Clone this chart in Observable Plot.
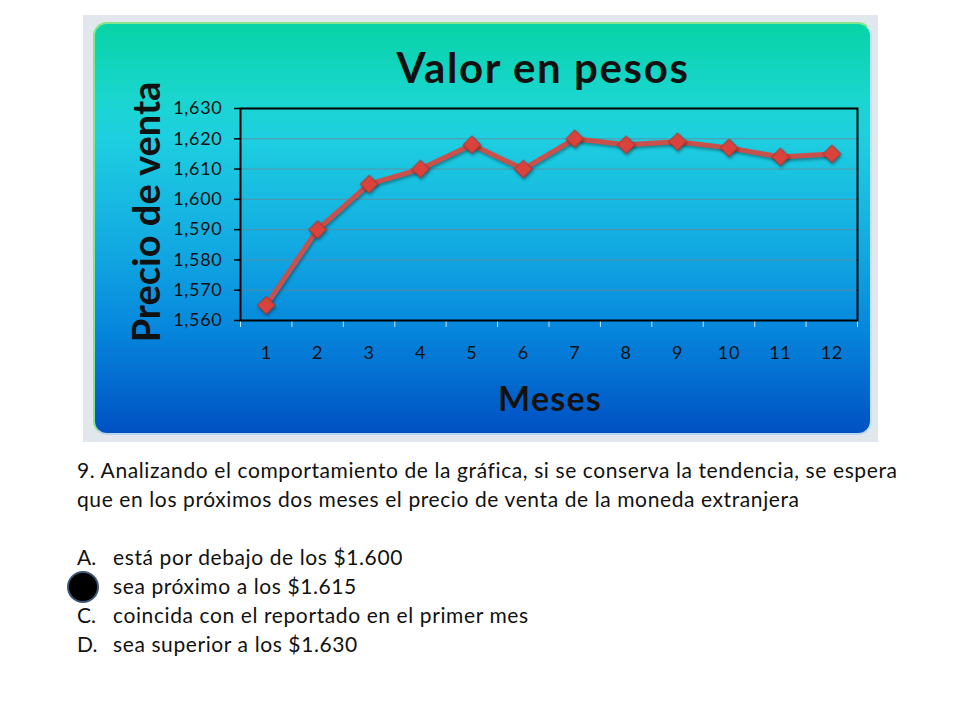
<!DOCTYPE html>
<html>
<head>
<meta charset="utf-8">
<script src="https://cdn.jsdelivr.net/npm/d3@7"></script>
<script src="https://cdn.jsdelivr.net/npm/@observablehq/plot@0.6"></script>
<style>
  html, body { margin:0; padding:0; background:#fff; }
  body { width:960px; height:720px; position:relative; overflow:hidden; font-family: Lato, "Open Sans", sans-serif; }
  #outer { position:absolute; left:83px; top:15px; width:795px; height:427px; background:#e2e7ee; }
  #panel { position:absolute; left:93px; top:22px; width:775px; height:409px; border-radius:14px;
    border:2px solid #86e58a; border-right-color:#bfe6f0; border-bottom-color:#b8d6ee;
    background: linear-gradient(to bottom, #06d3a6 0%, #1ad6cf 18%, #1ecfe0 28%, #12a9e2 55%, #0686dc 75%, #0050c2 100%); }
  #chart { position:absolute; left:93px; top:22px; }
  #chart svg text { letter-spacing:0.7px; }
  .t { position:absolute; color:#111; white-space:nowrap; }
  #title { left:0; width:1086px; top:41px; text-align:center; font-weight:700; font-size:42px; line-height:52px; letter-spacing:1.6px; }
  #ylab { left:145px; top:212px; transform: translate(-50%,-50%) rotate(-90deg); font-weight:700; font-size:38px; line-height:44px; }
  #xlab { left:0; width:1100px; top:376px; text-align:center; font-weight:700; font-size:34px; line-height:44px; letter-spacing:1.2px; }
  #q { position:absolute; left:77px; top:455px; font-size:21px; line-height:29px; color:#111; font-family: Lato, sans-serif; letter-spacing:0.6px; }
  #q div { white-space:nowrap; }
  #q .opt span.l { display:inline-block; width:36px; letter-spacing:0; }
  #dot { position:absolute; left:67px; top:571px; width:28px; height:28px; border-radius:50%; background:#000; border:2px solid #3d5578; }
  svg g[aria-label="line"], svg g[aria-label="dot"] { filter: drop-shadow(1px 2px 1.5px rgba(0,0,0,0.35)); }
</style>
</head>
<body>
<div id="outer"></div>
<div id="panel"></div>
<div id="chart"></div>
<div class="t" id="title">Valor en pesos</div>
<div class="t" id="ylab">Precio de venta</div>
<div class="t" id="xlab">Meses</div>
<div id="q">
  <div>9. Analizando el comportamiento de la gráfica, si se conserva la tendencia, se espera</div>
  <div>que en los próximos dos meses el precio de venta de la moneda extranjera</div>
  <div>&nbsp;</div>
  <div class="opt"><span class="l">A.</span>está por debajo de los $1.600</div>
  <div class="opt"><span class="l"></span>sea próximo a los $1.615</div>
  <div class="opt"><span class="l">C.</span>coincida con el reportado en el primer mes</div>
  <div class="opt"><span class="l">D.</span>sea superior a los $1.630</div>
</div>
<div id="dot"></div>
<script>
const months = [1,2,3,4,5,6,7,8,9,10,11,12];
const prices = [1565,1590,1605,1610,1618,1610,1620,1618,1619,1617,1614,1615];
const yTicks = [1560,1570,1580,1590,1600,1610,1620,1630];
const monthEdges = [0.5,1.5,2.5,3.5,4.5,5.5,6.5,7.5,8.5,9.5,10.5,11.5,12.5];

const data = months.map((m,i) => ({mes:m, precio:prices[i]}));

const chart = Plot.plot({
  width: 777,
  height: 411,
  marginLeft: 147,
  marginTop: 86,
  marginRight: 13,
  marginBottom: 113,
  style: {background:"transparent", fontFamily:"Lato, sans-serif", fontSize:"18px", color:"#111", overflow:"visible"},
  x: {domain:[0.5,12.5]},
  y: {domain:[1560,1630]},
  marks: [
    Plot.gridY(yTicks.slice(1,-1), {stroke:"#6f8294", strokeOpacity:0.75, strokeWidth:1}),
    Plot.axisY(yTicks, {tickFormat:d3.format(","), tickSize:6, tickPadding:12, label:null, stroke:"#000", strokeWidth:1.5}),
    Plot.axisX(monthEdges, {tickSize:7, tickFormat:() => "", label:null, stroke:"#cfe0ee"}),
    Plot.axisX(months, {tickSize:0, tickPadding:26, label:null}),
    Plot.frame({stroke:"#000", strokeWidth:2}),
    Plot.line(data, {x:"mes", y:"precio", stroke:"#c9514b", strokeWidth:5}),
    Plot.dot(data, {x:"mes", y:"precio", symbol:"diamond2", r:8, fill:"#da433c", stroke:"#a62e29", strokeWidth:1})
  ]
});
document.getElementById("chart").appendChild(chart);
</script>
</body>
</html>
